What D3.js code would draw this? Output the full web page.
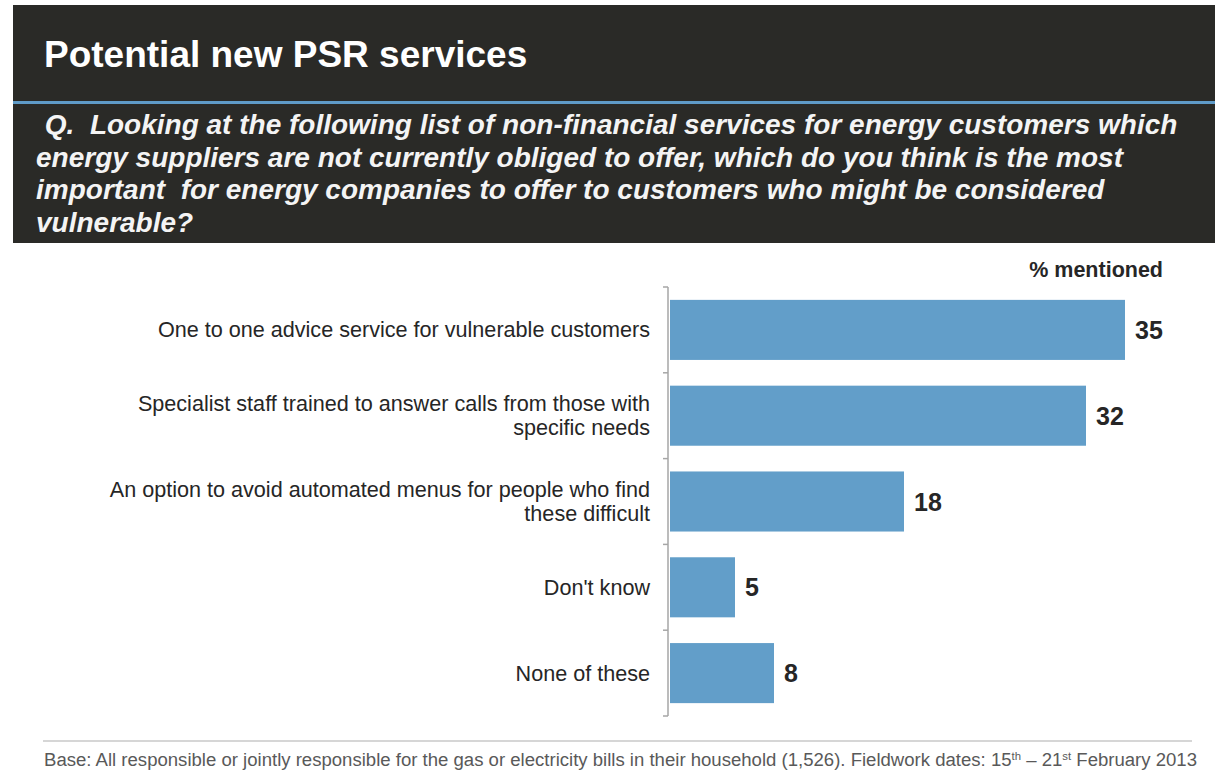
<!DOCTYPE html>
<html>
<head>
<meta charset="utf-8">
<script src="https://cdn.jsdelivr.net/npm/d3@7"></script>
<style>
  html, body { margin: 0; padding: 0; background: #fff; }
  svg { display: block; font-family: "Liberation Sans", Arial, sans-serif; }
</style>
</head>
<body>
<svg id="chart" width="1215" height="778"></svg>
<script>
// Survey answers, % mentioned
const categories = [
  ["One to one advice service for vulnerable customers"],
  ["Specialist staff trained to answer calls from those with", "specific needs"],
  ["An option to avoid automated menus for people who find", "these difficult"],
  ["Don't know"],
  ["None of these"]
];
const values = [35, 32, 18, 5, 8];

const titleText = "Potential new PSR services";
const questionLines = [
  " Q.  Looking at the following list of non-financial services for energy customers which",
  "energy suppliers are not currently obliged to offer, which do you think is the most",
  "important  for energy companies to offer to customers who might be considered",
  "vulnerable?"
];
const unitLabel = "% mentioned";

const svg = d3.select("#chart");

// Dark header block
svg.append("rect").attr("x", 13).attr("y", 5).attr("width", 1202).attr("height", 238)
  .attr("fill", "#2a2a27");
svg.append("rect").attr("x", 13).attr("y", 101).attr("width", 1202).attr("height", 3)
  .attr("fill", "#5f9bc8");

svg.append("text").attr("x", 44).attr("y", 67)
  .attr("fill", "#ffffff").attr("font-size", 37).attr("font-weight", "bold")
  .text(titleText);

svg.append("g").selectAll("text").data(questionLines).join("text")
  .attr("x", (d, i) => i === 0 ? 37 : 36)
  .attr("y", (d, i) => 134 + i * 32.5)
  .attr("fill", "#f4f4f4").attr("font-size", 28)
  .attr("font-weight", "bold").attr("font-style", "italic")
  .style("white-space", "pre")
  .text(d => d);

// Bar chart
const x = d3.scaleLinear().domain([0, 35]).range([670, 1125]);
const y = d3.scaleBand().domain(d3.range(values.length)).range([287, 716])
  .paddingInner(0.3).paddingOuter(0.15);

const axis = d3.axisLeft(y).tickValues([]).tickSizeOuter(0);
const axisG = svg.append("g").attr("transform", "translate(668,0)").call(axis);

// Category boundary ticks
const bounds = d3.range(values.length + 1).map(i => 287 + i * y.step());
axisG.select(".domain")
  .attr("d", `M0,${bounds[0]}V${bounds[bounds.length - 1]}`)
  .attr("stroke", "#a6a6a6").attr("stroke-width", 1.5);
svg.append("g").selectAll("line").data(bounds).join("line")
  .attr("x1", 663).attr("x2", 668)
  .attr("y1", d => d).attr("y2", d => d)
  .attr("stroke", "#a6a6a6").attr("stroke-width", 1.5);

svg.append("g").selectAll("rect").data(values).join("rect")
  .attr("x", x(0))
  .attr("y", (d, i) => y(i))
  .attr("width", d => x(d) - x(0))
  .attr("height", y.bandwidth())
  .attr("fill", "#629ec9");

svg.append("g").selectAll("text").data(values).join("text")
  .attr("x", d => x(d) + 10)
  .attr("y", (d, i) => y(i) + y.bandwidth() / 2)
  .attr("dy", "0.36em")
  .attr("font-size", 25).attr("font-weight", "bold").attr("fill", "#262626")
  .text(d => d);

const labelG = svg.append("g").selectAll("text").data(categories).join("text")
  .attr("text-anchor", "end")
  .attr("font-size", 21.6).attr("fill", "#262626")
  .attr("y", (d, i) => y(i) + y.bandwidth() / 2);
labelG.selectAll("tspan").data(d => d.map((t, j) => ({ t, j, n: d.length }))).join("tspan")
  .attr("x", 650)
  .attr("dy", d => d.j === 0 ? `${0.35 - (d.n - 1) * 0.56}em` : "1.12em")
  .text(d => d.t);

svg.append("text").attr("x", 1163).attr("y", 277)
  .attr("text-anchor", "end").attr("font-size", 21.5).attr("font-weight", "bold")
  .attr("fill", "#262626").text(unitLabel);

// Footer
svg.append("line").attr("x1", 43).attr("x2", 1192).attr("y1", 741).attr("y2", 741)
  .attr("stroke", "#c8c8c8").attr("stroke-width", 1.5);

const foot = svg.append("text").attr("x", 44).attr("y", 766)
  .attr("font-size", 18).attr("fill", "#595959")
  .attr("textLength", 1153).attr("lengthAdjust", "spacingAndGlyphs");
foot.append("tspan").text("Base: All responsible or jointly responsible for the gas or electricity bills in their household (1,526). Fieldwork dates: 15");
foot.append("tspan").attr("font-size", 11).attr("baseline-shift", "super").text("th");
foot.append("tspan").text(" \u2013 21");
foot.append("tspan").attr("font-size", 11).attr("baseline-shift", "super").text("st");
foot.append("tspan").text(" February 2013");
</script>
</body>
</html>
